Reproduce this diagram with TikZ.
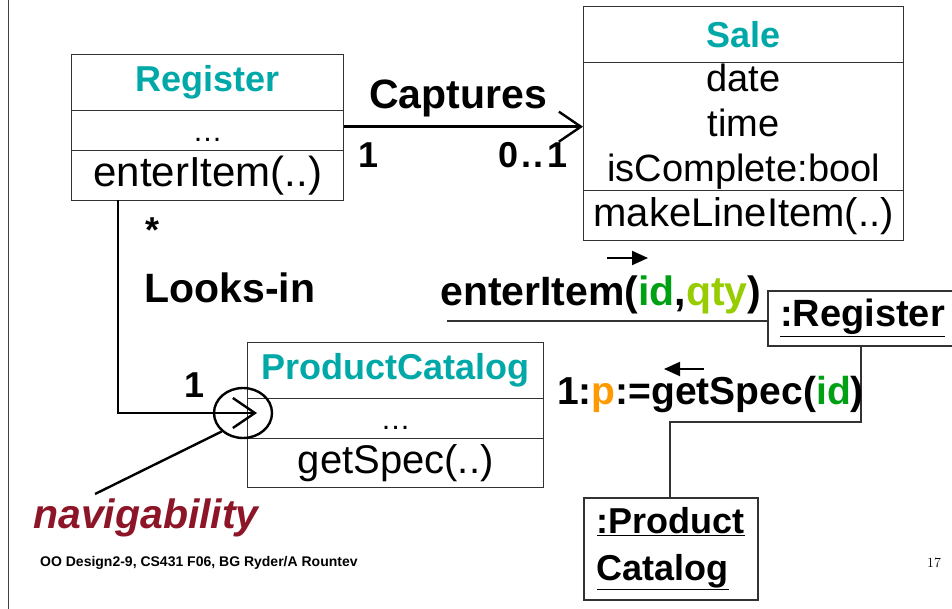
\documentclass[tikz,border=0pt]{standalone}
\usepackage{fontspec}
\setmainfont{Liberation Sans}
\newfontfamily\pagenumfont{Latin Modern Roman}
\usetikzlibrary{arrows.meta,calc,shapes.geometric}

\definecolor{classteal}{RGB}{0,168,168}
\definecolor{argid}{RGB}{0,160,20}
\definecolor{argqty}{RGB}{150,204,0}
\definecolor{argp}{RGB}{255,153,0}
\definecolor{notered}{RGB}{140,22,40}
\definecolor{boxline}{RGB}{50,50,50}

\tikzset{
  compart/.style={draw=boxline, line width=1.4pt, rectangle, inner sep=0pt,
                  anchor=north west, align=center},
  clsname/.style={font=\fontsize{36}{40}\selectfont\bfseries, text=classteal},
  member/.style={font=\fontsize{40}{45}\selectfont},
  biglabel/.style={font=\fontsize{41}{46}\selectfont\bfseries},
  mult/.style={font=\fontsize{36}{40}\selectfont\bfseries},
  msg/.style={font=\fontsize{41}{44}\selectfont\bfseries, inner sep=0pt},
  objbox/.style={draw=boxline, line width=1.6pt, rectangle, inner sep=0pt,
                 anchor=north west},
  assoc/.style={line width=2.6pt},
  openhead/.style={-{Straight Barb[length=22pt,width=30pt,line width=2.4pt]}},
  link/.style={line width=1.8pt, draw=boxline},
  dirarrow/.style={line width=2pt, -{Triangle[length=16pt,width=14pt]}},
}
% elided compartment content, sitting a little below the middle
\newcommand{\elide}{\raisebox{-11pt}[0pt][0pt]{\fontsize{30}{30}\selectfont\dots}}

\begin{document}
\begin{tikzpicture}[x=1pt,y=-1pt]
\useasboundingbox (0,0) rectangle (952,609);

% slide margin rule
\draw[line width=1pt, black!75] (8,0) -- (8,609);

% ---- class Register ----
\node[compart, clsname, minimum width=272pt, minimum height=56pt] (regN) at (71,54) {Register};
\node[compart, member, minimum width=272pt, minimum height=40pt] (regA) at (71,110) {\elide};
\node[compart, member, minimum width=272pt, minimum height=50pt,
      font=\fontsize{42}{45}\selectfont] (regM) at (71,150) {enterItem(..)};

% ---- class Sale ----
\node[compart, clsname, minimum width=320pt, minimum height=56pt] (saleN) at (583,6) {Sale};
\node[compart, member, minimum width=320pt, minimum height=128pt,
      font=\fontsize{38}{45}\selectfont] (saleA) at (583,62) {date\\time\\isComplete:bool};
\node[compart, member, minimum width=320pt, minimum height=50pt] (saleM) at (583,190) {makeLineItem(..)};

% ---- class ProductCatalog ----
\node[compart, clsname, minimum width=296pt, minimum height=56pt] (pcN) at (247,342) {ProductCatalog};
\node[compart, member, minimum width=296pt, minimum height=40pt] (pcA) at (247,398) {\elide};
\node[compart, member, minimum width=296pt, minimum height=49pt] (pcM) at (247,438) {getSpec(..)};

% ---- association Captures ----
\draw[assoc, openhead] (regA.east |- saleA.west) -- (saleA.west);
\node[biglabel] (capLbl) at (458,98) {Captures};
\node[mult] (capOne) at (369,155) {1};
\node[mult] (capZero) at (533,155) {0\kern3pt.\kern2pt.\kern3pt1};

% ---- association Looks-in with navigability ----
\coordinate (lkTop) at (118,200);
\coordinate (lkTip) at (257,413);
\draw[assoc, openhead] (lkTop) |- (lkTip);
\node[mult] (lkStar) at (153,230) {*};
\node[biglabel, anchor=west] (lkLbl) at (141,288) {Looks-in};
\node[mult] (lkOne) at (195,385) {1};

\node[draw, ellipse, line width=2.4pt, minimum width=58pt, minimum height=50pt, inner sep=0pt] (navCirc) at (243,413) {};
\coordinate (navFoot) at (95,494);
\draw[line width=2.4pt] (navFoot) -- (navCirc.south west);
\node[font=\fontsize{41}{46}\selectfont\bfseries\itshape, text=notered, anchor=west, inner sep=0pt] (navLbl) at (33,518) {navigability};

% ---- collaboration: messages and objects ----
\node[objbox, minimum width=200pt, minimum height=55pt] (objReg) at (767,290) {};
\node[font=\fontsize{38}{42}\selectfont\bfseries, anchor=west, inner sep=0pt] (objRegTxt) at (780,318) {\underline{:Register}};

\node[objbox, minimum width=174pt, minimum height=102pt,
      font=\fontsize{36}{47}\selectfont\bfseries, align=left, inner xsep=10pt] (objPC) at (583,497)
      {\underline{:Product}\\\underline{Catalog}};

\coordinate (msgStart) at (447,321);
\draw[link] (msgStart) -- (objReg.west |- msgStart);
\node[msg, anchor=west] (msgEnter) at (440,295)
  {enterItem(\textcolor{argid}{id},\textcolor{argqty}{qty})};
\coordinate (enterArrA) at (607,258);
\coordinate (enterArrB) at (648,258);
\draw[dirarrow] (enterArrA) -- (enterArrB);

\coordinate (regDrop) at (861,345);
\coordinate (bend) at (670,422);
\draw[link] (regDrop) |- (bend) -- (bend |- objPC.north);
\node[msg, anchor=west, font=\fontsize{39}{43}\selectfont\bfseries] (msgSpec) at (557,395)
  {1:\textcolor{argp}{p}:=getSpec(\textcolor{argid}{id})};
\coordinate (specArrA) at (704,369);
\coordinate (specArrB) at (664,369);
\draw[dirarrow] (specArrA) -- (specArrB);

% ---- footer ----
\node[font=\fontsize{14}{16}\selectfont\bfseries, anchor=west, inner sep=0pt] (footer) at (40,563)
  {OO Design2-9, CS431 F06, BG Ryder/A Rountev};
\node[font=\pagenumfont\fontsize{14}{16}\selectfont, inner sep=0pt] (pageNo) at (934,563) {17};
\end{tikzpicture}
\end{document}
